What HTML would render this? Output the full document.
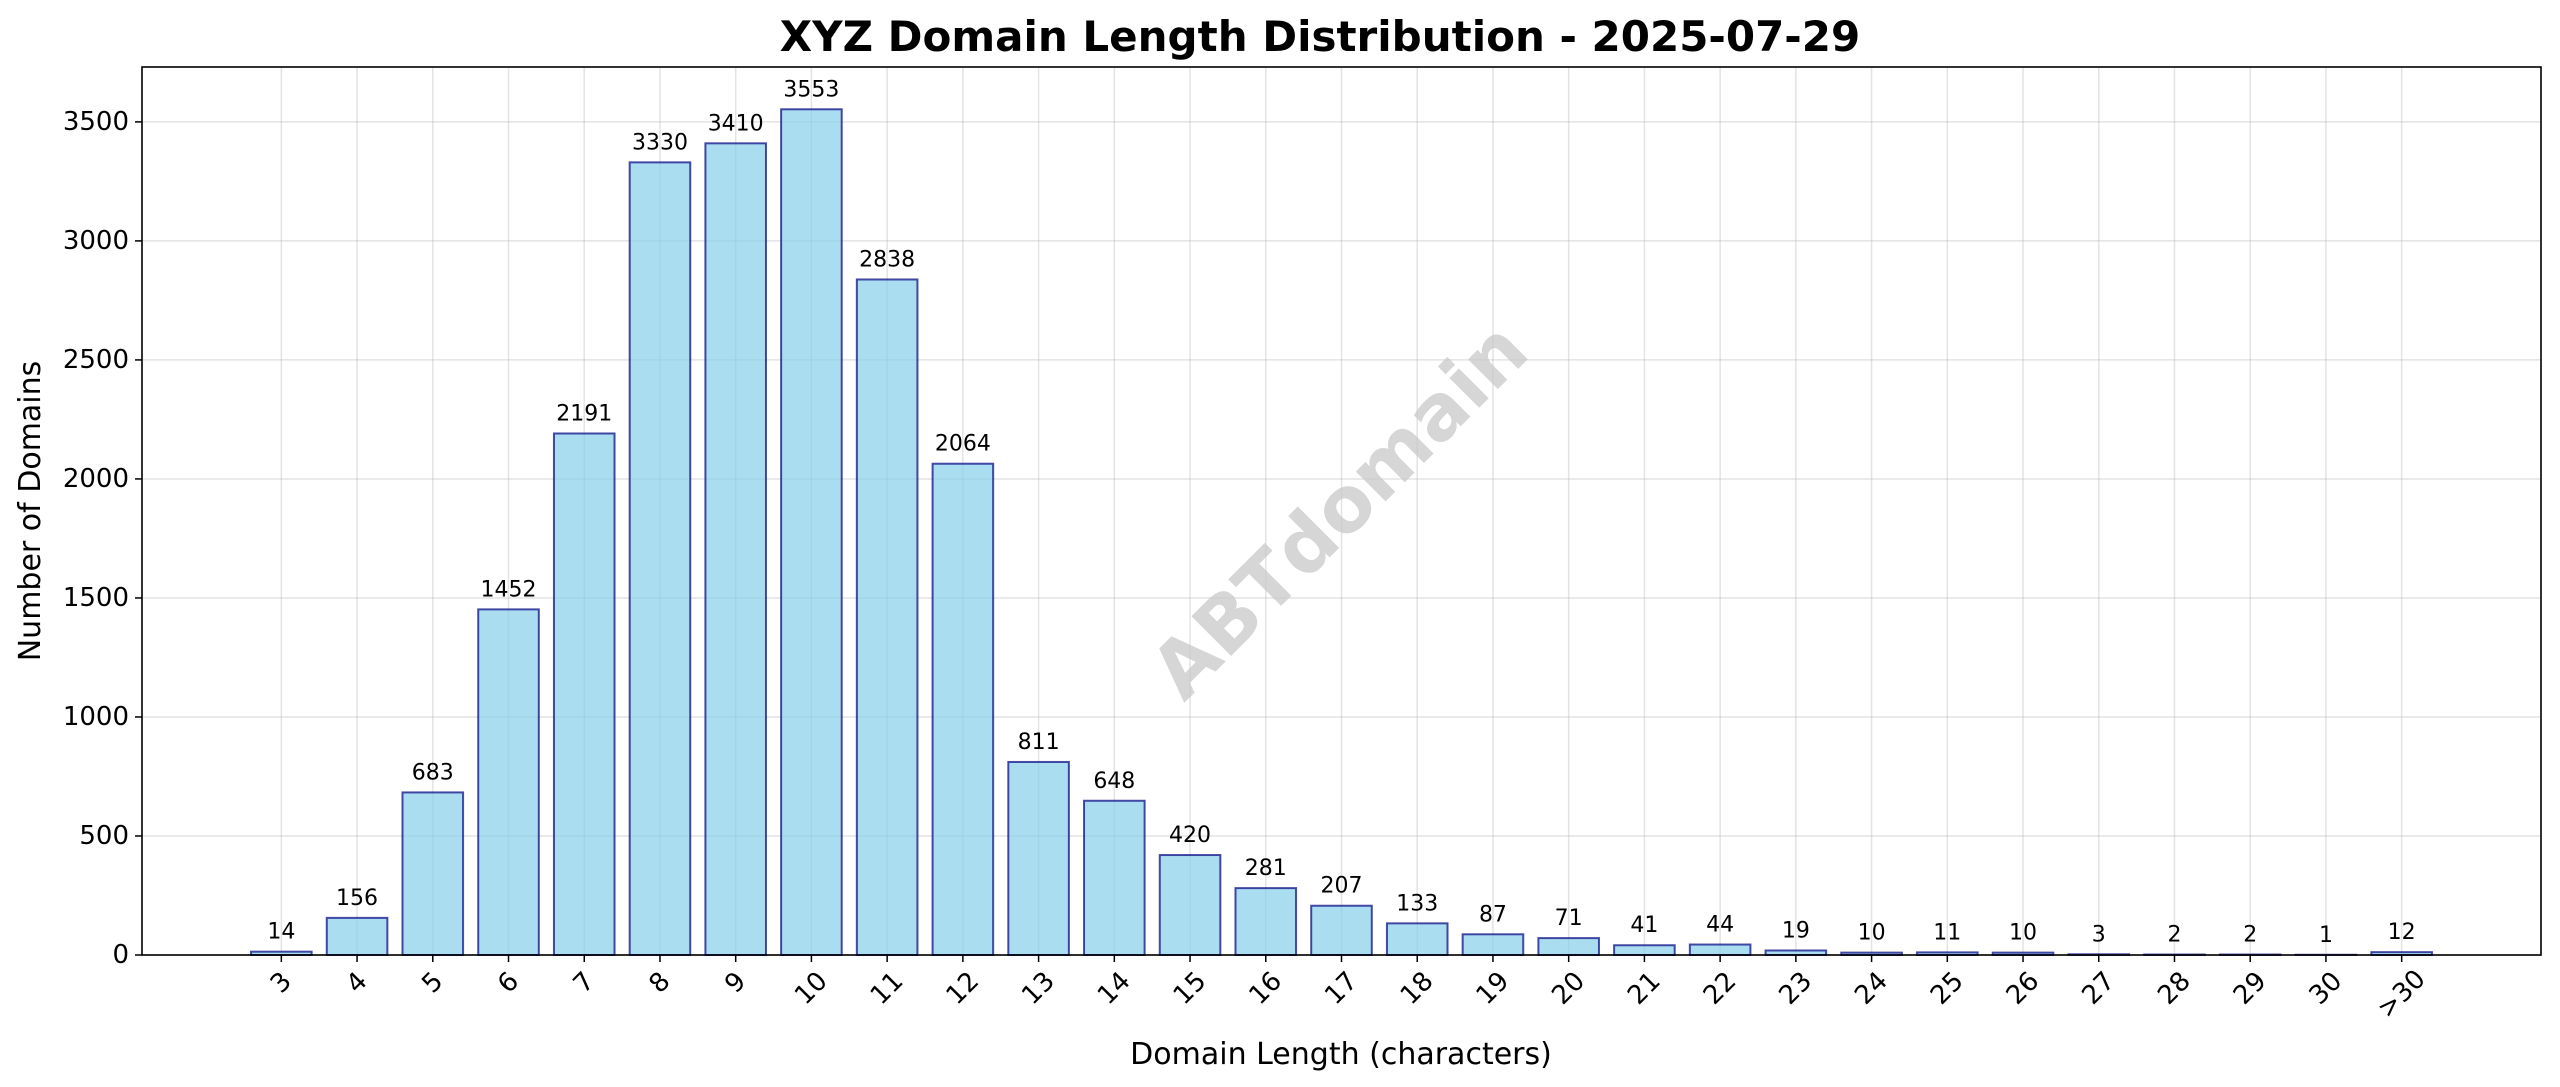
<!DOCTYPE html>
<html><head><meta charset="utf-8">
<style>
html,body{margin:0;padding:0;background:#fff;}
svg{display:block;font-family:"DejaVu Sans","Liberation Sans",sans-serif;}
</style></head>
<body>
<svg id="chart" width="2560" height="1087" viewBox="0 0 2560 1087" xmlns="http://www.w3.org/2000/svg">
  <rect width="2560" height="1087" fill="#fff"/>
  <text x="1320" y="51" text-anchor="middle" font-size="42" font-weight="bold" fill="#000">XYZ Domain Length Distribution - 2025-07-29</text>
  <g id="grid"></g>
  <text x="1340" y="511" text-anchor="middle" dominant-baseline="central" font-size="77" font-weight="bold" fill="#c8c8c8" fill-opacity="0.75" transform="rotate(-45 1340 511)">ABTdomain</text>
  <g id="bars"></g>
  <g id="labels"></g>
  <rect x="142" y="67" width="2399" height="888" fill="none" stroke="#000" stroke-width="1.6"/>
  <g id="axes"></g>
  <text x="1341" y="1064" text-anchor="middle" font-size="30" fill="#000">Domain Length (characters)</text>
  <text x="40" y="511" text-anchor="middle" font-size="30" fill="#000" transform="rotate(-90 40 511)">Number of Domains</text>
</svg>
<script>
const categories = ["3","4","5","6","7","8","9","10","11","12","13","14","15","16","17","18","19","20","21","22","23","24","25","26","27","28","29","30",">30"];
const counts = [14,156,683,1452,2191,3330,3410,3553,2838,2064,811,648,420,281,207,133,87,71,41,44,19,10,11,10,3,2,2,1,12];
const yTicks = [0,500,1000,1500,2000,2500,3000,3500];

const NS = "http://www.w3.org/2000/svg";
const plotL = 142, plotR = 2541, plotT = 67, plotB = 955;
const n = categories.length;
const xMin = -0.4 - 0.05*(n - 1 + 0.8), xMax = n - 1 + 0.4 + 0.05*(n - 1 + 0.8);
const yMaxV = Math.max(...counts) * 1.05;
function xScale(i){ return plotL + (i - xMin) / (xMax - xMin) * (plotR - plotL); }
function yScale(v){ return plotB - v / yMaxV * (plotB - plotT); }
function mk(tag, attrs, parent){ const e = document.createElementNS(NS, tag); for (const k in attrs) e.setAttribute(k, attrs[k]); parent.appendChild(e); return e; }

const grid = document.getElementById('grid');
const bars = document.getElementById('bars');
const labels = document.getElementById('labels');
const axes = document.getElementById('axes');
const bw = 0.8 * (xScale(1) - xScale(0));

yTicks.forEach(t => {
  const y = yScale(t);
  const g = mk('line', {x1: plotL, x2: plotR, y1: y, y2: y, stroke: '#b0b0b0', 'stroke-opacity': 0.35, 'stroke-width': 1.5}, grid);
  
  
  const tk = mk('line', {x1: plotL - 7, x2: plotL, y1: y, y2: y, stroke: '#000', 'stroke-width': 1.5}, axes);
  
  
  const tl = mk('text', {x: plotL - 13, y: y, 'text-anchor': 'end', 'dominant-baseline': 'central', 'font-size': 26, fill: '#000'}, axes);
  tl.textContent = t;
  
  
});

categories.forEach((c, i) => {
  const x = xScale(i);
  const g = mk('line', {x1: x, x2: x, y1: plotT, y2: plotB, stroke: '#b0b0b0', 'stroke-opacity': 0.35, 'stroke-width': 1.5}, grid);
  
  
  const v = counts[i];
  const top = yScale(v);
  const b = mk('rect', {x: x - bw/2, y: top, width: bw, height: plotB - top, fill: '#87ceeb', 'fill-opacity': 0.7, stroke: '#000080', 'stroke-opacity': 0.7, 'stroke-width': 2}, bars);
  
  
  const vl = mk('text', {x: x, y: top - 13, 'text-anchor': 'middle', 'font-size': 22, fill: '#000'}, labels);
  vl.textContent = v;
  
  
  const tk = mk('line', {x1: x, x2: x, y1: plotB, y2: plotB + 7, stroke: '#000', 'stroke-width': 1.5}, axes);
  
  
  const w = c.length * 16, h = 26;
  const cy = plotB + 13 + (w + h) * 0.707 / 2;
  const tl = mk('text', {x: x, y: cy, 'text-anchor': 'middle', 'dominant-baseline': 'central', 'font-size': 26, fill: '#000', transform: 'rotate(-45 ' + x + ' ' + cy + ')'}, axes);
  tl.textContent = c;
  
  
});
</script>
</body></html>
